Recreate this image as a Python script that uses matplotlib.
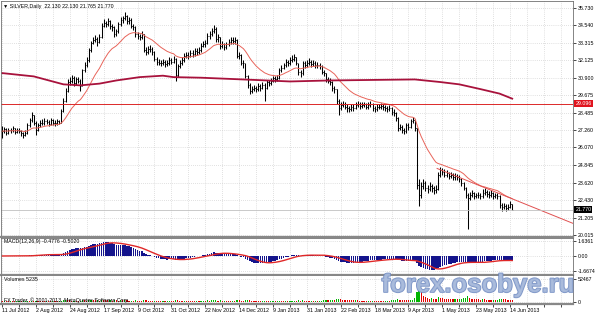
import numpy as np
import pandas as pd
import matplotlib
matplotlib.use('Agg')
import matplotlib.pyplot as plt
import matplotlib.patheffects as pe

plt.rcParams['font.family'] = ['Liberation Sans', 'DejaVu Sans']

# daily closes, SILVER, from 11 Jul 2012 (bar 0) to 17 Jun 2013
closes = [
    27.20, 27.35, 27.10, 27.30, 27.25, 27.40, 27.15, 27.30, 27.20, 27.05,
    26.95, 27.10, 27.60, 27.95, 28.30, 27.80, 27.30, 27.60, 27.80, 27.75,
    27.90, 27.85, 27.70, 27.95, 27.80, 27.75, 27.90, 27.80, 28.60, 29.30,
    30.00, 30.60, 30.70, 30.90, 30.50, 30.80, 30.70, 30.35, 31.40, 31.80,
    32.10, 32.80, 33.30, 33.50, 33.60, 33.40, 33.70, 34.50, 34.70, 34.60,
    34.80, 34.50, 34.40, 33.90, 34.10, 34.60, 34.90, 35.00, 35.20, 34.80,
    34.90, 34.50, 34.40, 33.90, 33.80, 33.70, 33.90, 32.80, 32.70, 32.90,
    32.90, 32.70, 32.20, 32.00, 31.95, 31.90, 32.00, 31.85, 31.90, 32.10,
    32.00, 32.20, 31.06, 31.70, 31.90, 32.10, 32.40, 32.50, 32.40, 32.60,
    32.55, 32.77, 32.70, 32.80, 33.10, 33.20, 33.30, 33.80, 33.90, 34.15,
    34.30, 33.60, 33.70, 33.10, 33.20, 33.00, 33.20, 33.40, 33.50, 33.45,
    33.50, 32.40, 32.50, 31.95, 31.90, 31.00, 30.40, 30.00, 30.10, 30.20,
    30.10, 30.30, 30.20, 30.40, 30.20, 30.60, 30.50, 30.70, 30.85, 30.80,
    30.90, 31.40, 31.60, 31.75, 32.00, 31.90, 32.10, 32.20, 32.30, 31.90,
    31.30, 31.20, 31.90, 31.80, 31.90, 32.00, 31.85, 31.95, 31.75, 31.80,
    31.70, 31.30, 31.20, 30.80, 30.70, 30.60, 30.20, 30.10, 29.30, 28.80,
    29.00, 29.10, 28.90, 28.80, 28.70, 28.90, 28.80, 29.00, 29.10, 28.95,
    29.00, 29.05, 28.90, 29.00, 29.10, 28.80, 28.70, 28.85, 28.90, 28.95,
    28.85, 28.80, 28.75, 28.80, 28.50, 28.45, 28.10, 27.40, 27.50, 27.30,
    27.20, 27.60, 27.50, 27.90, 28.00, 27.40, 23.50, 22.80, 23.40, 23.60,
    23.30, 23.20, 23.40, 23.30, 23.10, 23.20, 24.20, 24.50, 24.40, 24.20,
    24.30, 24.10, 24.20, 24.00, 24.10, 24.00, 23.90, 23.60, 23.30, 22.80,
    22.60, 22.80, 22.90, 22.70, 22.75, 22.80, 22.70, 22.90, 23.00, 22.85,
    22.80, 22.90, 22.70, 22.75, 22.70, 22.10, 21.95, 22.00, 21.90, 21.95,
    22.13, 21.77,
]
highs = [
    27.55, 27.50, 27.45, 27.45, 27.45, 27.55, 27.45, 27.45, 27.40, 27.30,
    27.15, 27.25, 27.75, 28.10, 28.55, 28.35, 27.90, 27.75, 28.00, 28.05,
    28.10, 28.05, 27.95, 28.10, 28.05, 27.95, 28.05, 28.00, 28.75, 29.50,
    30.20, 30.80, 30.95, 31.10, 31.00, 30.95, 30.95, 30.80, 31.50, 32.00,
    32.30, 32.95, 33.45, 33.70, 33.85, 33.75, 33.90, 34.70, 34.95, 34.85,
    35.00, 34.90, 34.65, 34.45, 34.30, 34.75, 35.10, 35.20, 35.45, 35.25,
    35.10, 35.00, 34.65, 34.45, 34.05, 33.95, 34.10, 33.95, 33.00, 33.10,
    33.15, 33.00, 32.75, 32.35, 32.20, 32.15, 32.20, 32.10, 32.10, 32.30,
    32.25, 32.40, 32.25, 31.85, 32.10, 32.30, 32.60, 32.70, 32.65, 32.80,
    32.80, 32.95, 32.95, 33.00, 33.30, 33.45, 33.50, 34.00, 34.10, 34.35,
    34.55, 34.40, 33.95, 33.75, 33.45, 33.30, 33.40, 33.60, 33.70, 33.75,
    33.70, 33.55, 32.70, 32.55, 32.15, 31.95, 31.10, 30.50, 30.30, 30.40,
    30.35, 30.50, 30.45, 30.60, 30.50, 30.75, 30.75, 30.90, 31.05, 31.00,
    31.10, 31.55, 31.80, 31.95, 32.20, 32.15, 32.30, 32.45, 32.55, 32.35,
    31.95, 31.45, 32.05, 32.05, 32.15, 32.25, 32.10, 32.15, 32.05, 32.00,
    31.95, 31.80, 31.45, 31.25, 30.95, 30.85, 30.65, 30.35, 30.15, 29.40,
    29.20, 29.30, 29.20, 29.05, 28.95, 29.10, 29.05, 29.20, 29.30, 29.25,
    29.20, 29.25, 29.15, 29.20, 29.30, 29.15, 28.95, 29.05, 29.10, 29.15,
    29.10, 29.00, 28.95, 29.00, 28.85, 28.70, 28.50, 28.15, 27.70, 27.60,
    27.45, 27.75, 27.75, 28.05, 28.20, 28.05, 27.45, 23.90, 23.70, 23.90,
    23.75, 23.50, 23.65, 23.55, 23.40, 23.45, 24.35, 24.75, 24.65, 24.55,
    24.50, 24.40, 24.40, 24.30, 24.30, 24.25, 24.15, 23.95, 23.70, 23.35,
    22.95, 23.00, 23.10, 23.00, 22.95, 23.00, 22.95, 23.20, 23.25, 23.10,
    23.05, 23.10, 23.00, 22.95, 22.90, 22.75, 22.20, 22.20, 22.15, 22.15,
    22.40, 22.13,
]
lows = [
    26.70, 27.05, 26.95, 27.00, 27.10, 27.15, 27.00, 27.05, 27.05, 26.90,
    26.75, 26.85, 27.00, 27.50, 27.85, 27.65, 26.95, 27.20, 27.50, 27.60,
    27.65, 27.70, 27.55, 27.60, 27.65, 27.55, 27.65, 27.70, 27.75, 28.50,
    29.20, 29.90, 30.40, 30.55, 30.35, 30.40, 30.50, 29.95, 30.30, 31.30,
    31.65, 32.00, 32.70, 33.20, 33.35, 33.10, 33.30, 33.65, 34.40, 34.40,
    34.50, 34.30, 34.15, 33.75, 33.80, 34.00, 34.50, 34.70, 34.90, 34.60,
    34.65, 34.35, 34.20, 33.70, 33.60, 33.50, 33.55, 32.65, 32.50, 32.55,
    32.70, 32.50, 32.05, 31.80, 31.75, 31.70, 31.75, 31.65, 31.70, 31.80,
    31.85, 31.90, 30.70, 30.95, 31.55, 31.80, 32.00, 32.25, 32.20, 32.30,
    32.35, 32.40, 32.50, 32.55, 32.70, 33.00, 33.05, 33.20, 33.60, 33.80,
    34.00, 33.40, 33.40, 32.90, 32.95, 32.80, 32.90, 33.10, 33.25, 33.25,
    33.20, 32.25, 32.20, 31.80, 31.60, 30.85, 30.20, 29.80, 29.85, 29.95,
    29.90, 30.00, 30.00, 30.10, 29.30, 30.10, 30.30, 30.40, 30.60, 30.60,
    30.70, 30.80, 31.30, 31.50, 31.65, 31.70, 31.80, 32.00, 32.05, 31.75,
    31.10, 30.95, 31.10, 31.60, 31.65, 31.75, 31.65, 31.70, 31.55, 31.60,
    31.50, 31.15, 31.00, 30.60, 30.50, 30.40, 30.00, 29.85, 29.10, 28.30,
    28.65, 28.85, 28.70, 28.55, 28.50, 28.60, 28.60, 28.70, 28.85, 28.75,
    28.80, 28.85, 28.70, 28.75, 28.85, 28.60, 28.50, 28.60, 28.70, 28.75,
    28.65, 28.60, 28.55, 28.60, 28.30, 28.25, 27.90, 27.20, 27.25, 27.10,
    27.00, 27.10, 27.30, 27.40, 27.75, 27.20, 23.20, 22.00, 22.60, 23.20,
    23.05, 22.95, 23.05, 23.00, 22.85, 22.95, 23.10, 24.05, 24.15, 24.00,
    24.05, 23.90, 23.95, 23.80, 23.85, 23.80, 23.70, 23.40, 23.10, 22.60,
    20.40, 22.45, 22.65, 22.50, 22.55, 22.60, 22.50, 22.60, 22.75, 22.65,
    22.60, 22.65, 22.50, 22.55, 22.50, 21.90, 21.70, 21.80, 21.70, 21.75,
    21.85, 21.765,
]
volumes = [
    2500, 3000, 2800, 2600, 3100, 2900, 2400, 2700, 3000, 2600,
    2800, 3200, 3500, 3300, 3900, 3100, 3400, 2900, 2700, 2600,
    2500, 2800, 2600, 2400, 2700, 2500, 2300, 2600, 4200, 5100,
    5600, 4800, 4300, 3900, 4100, 3600, 3300, 3800, 4600, 4400,
    4200, 4800, 5200, 4700, 4300, 4500, 4100, 5300, 5000, 4700,
    4400, 4600, 4200, 4800, 4300, 4100, 4500, 4400, 4700, 4300,
    4000, 4200, 3900, 4500, 4100, 3800, 3700, 5200, 4600, 4100,
    3700, 3500, 3900, 3600, 3400, 3300, 3500, 3200, 3300, 3600,
    3400, 3300, 6200, 4500, 3800, 3600, 3900, 3700, 3500, 3400,
    3300, 3200, 3400, 3100, 3700, 3900, 3500, 4300, 4100, 4400,
    4600, 4900, 4200, 4500, 3900, 4000, 3700, 3600, 3500, 3800,
    3400, 5100, 4400, 4200, 3800, 5300, 5600, 4800, 3900, 3200,
    2900, 2600, 2200, 2400, 3600, 2800, 2500, 3000, 3300, 3100,
    3200, 3800, 3600, 3500, 3700, 3400, 3500, 3900, 4100, 3800,
    4900, 4200, 4300, 3800, 3600, 3500, 3700, 3400, 3600, 3500,
    3800, 4200, 4400, 4600, 4300, 4800, 5500, 5200, 7800, 8600,
    7200, 6400, 5800, 5200, 4800, 4600, 4300, 4900, 4500, 4100,
    4000, 3800, 3600, 3900, 3700, 4200, 4100, 3800, 3600, 3500,
    3400, 3600, 3800, 3700, 4300, 4500, 5600, 7600, 6200, 5600,
    5300, 4900, 4700, 5100, 5400, 8800, 23000, 52467, 26000, 15000,
    11000, 9500, 8600, 8900, 8100, 7600, 12000, 10500, 9200, 8400,
    7800, 7500, 7100, 6800, 7400, 6900, 7200, 8100, 8800, 9600,
    14000, 9800, 8200, 7600, 7100, 6800, 6500, 7000, 6600, 6300,
    6200, 6000, 6400, 5900, 6100, 7800, 8200, 7300, 6800, 6500,
    6100, 5235,
]

# 200-day moving average, read at a few bars
ma200_bars = [0, 15, 29, 37, 46, 54, 65, 76, 81, 94, 117, 136, 155, 183, 195, 207, 216, 226, 235, 241]
ma200_vals = [31.22, 30.99, 30.44, 30.37, 30.49, 30.71, 30.94, 31.04, 30.94, 30.90,
              30.76, 30.64, 30.71, 30.76, 30.78, 30.60, 30.44, 30.11, 29.80, 29.45]

# hand drawn trend line and level
trend_bars = [205.5, 269.7]
trend_vals = [24.62, 20.82]
level = 29.096
last_price = 21.770

price_ticks = [35.730, 34.540, 33.315, 32.125, 30.900, 29.675, 28.485,
               27.260, 26.070, 24.845, 23.620, 22.430, 21.205, 20.015]
date_labels = ['11 Jul 2012', '2 Aug 2012', '24 Aug 2012', '17 Sep 2012', '9 Oct 2012',
               '31 Oct 2012', '22 Nov 2012', '14 Dec 2012', '9 Jan 2013', '31 Jan 2013',
               '22 Feb 2013', '18 Mar 2013', '9 Apr 2013', '1 May 2013', '23 May 2013',
               '14 Jun 2013']

n = len(closes)
idx = np.arange(n)
c = np.array(closes)
opens = np.concatenate([[c[0]], c[:-1]])

s = pd.Series(c)
ma_fast = s.ewm(span=20, adjust=False).mean()
macd = s.ewm(span=12, adjust=False).mean() - s.ewm(span=26, adjust=False).mean()
signal = macd.rolling(9, min_periods=1).mean()

fs = 3.8
gridcol = '#c4c4c4'
xmin, xmax = -0.5, 269.7

fig = plt.figure(figsize=(5.95, 3.16), dpi=100)
ax = fig.add_axes([0.00168, 0.251, 0.9613, 0.747])
ax2 = fig.add_axes([0.00168, 0.1297, 0.9613, 0.1187])
ax3 = fig.add_axes([0.00168, 0.038, 0.9613, 0.0902])

for a in (ax, ax2, ax3):
    a.set_xlim(xmin, xmax)
    a.yaxis.tick_right()
    a.tick_params(axis='y', length=2, width=0.5, pad=1.5, labelsize=fs, colors='black')
    a.tick_params(axis='x', length=2, width=0.5, pad=1, labelsize=fs)
    a.set_xticks(np.arange(0, 270, 8))
    a.grid(True, linestyle=(0, (1, 2)), color=gridcol, lw=0.5)
    a.set_axisbelow(True)
    for sp in a.spines.values():
        sp.set_color('#707070')
        sp.set_linewidth(0.6)
    a.spines['bottom'].set_color('#888888')
    a.spines['bottom'].set_linewidth(1.6)

# price pane
ax.set_ylim(19.898, 36.234)
ax.set_yticks(price_ticks)
ax.set_yticklabels(['%.3f' % p for p in price_ticks])
ax.tick_params(axis='x', labelbottom=False, length=0)

ax.vlines(idx, lows, highs, color='black', lw=0.75)
ax.hlines(opens, idx - 0.4, idx, color='black', lw=0.6)
ax.hlines(c, idx, idx + 0.4, color='black', lw=0.6)

ax.plot(idx, ma_fast, color='#e8645a', lw=0.7)
ax.plot(ma200_bars, ma200_vals, color='#a8123c', lw=1.3)
ax.plot(trend_bars, trend_vals, color='#e05050', lw=0.7)
ax.axhline(level, color='#dc2828', lw=0.7)
ax.axhline(last_price, color='#c0c0c0', lw=0.6)

ax.text(1.004, level, '%.3f' % level, transform=ax.get_yaxis_transform(), fontsize=fs,
        color='white', va='center', ha='left',
        bbox=dict(fc='#e0141e', ec='none', pad=0.8))
ax.text(1.004, last_price, '%.3f' % last_price, transform=ax.get_yaxis_transform(), fontsize=fs,
        color='white', va='center', ha='left',
        bbox=dict(fc='black', ec='none', pad=0.8))
ax.text(0.004, 0.985, '\u25bc SILVER,Daily  22.130 22.130 21.765 21.770', transform=ax.transAxes,
        fontsize=fs, va='top', ha='left')

# MACD pane
ax2.set_ylim(-2.10, 2.04)
ax2.set_yticks([1.6361, 0.0, -1.6674])
ax2.set_yticklabels(['1.6361', '0.00', '-1.6674'])
ax2.tick_params(axis='x', labelbottom=False, length=0)
ax2.bar(idx, macd, width=0.75, color='#14148c', lw=0)
ax2.plot(idx, signal, color='#e02828', lw=1.0)
ax2.text(0.006, 0.96, 'MACD(12,26,9) -0.4776 -0.5020', transform=ax2.transAxes,
         fontsize=fs, va='top', ha='left')

# volume pane
vols = np.array(volumes)
vcol = ['#00b400' if i > 0 and vols[i] > vols[i - 1] else '#e00000' for i in range(n)]
ax3.set_ylim(-3500, 60000)
ax3.set_yticks([52467, 0])
ax3.set_yticklabels(['52467', '0'])
ax3.bar(idx, vols, width=0.55, color=vcol, lw=0)
ax3.text(0.006, 0.95, 'Volumes 5235', transform=ax3.transAxes, fontsize=fs, va='top', ha='left')
ax3.text(0.006, 0.05, 'FX Trader, \u00a9 2001-2013, MetaQuotes Software Corp.',
         transform=ax3.transAxes, fontsize=fs, va='bottom', ha='left')

xl = []
for k in range(0, 270, 8):
    xl.append(date_labels[k // 16] if k % 16 == 0 and k // 16 < len(date_labels) else '')
ax3.set_xticklabels(xl)
for t in ax3.get_xticklabels():
    t.set_ha('left')

# watermark
fig.text(0.804, 0.098, 'forex.osobye.ru', fontsize=18.5, fontweight='bold', color='#a9bbdc',
         alpha=0.85, ha='center', va='center',
         path_effects=[pe.withStroke(linewidth=1.2, foreground='#6a86bf')])

fig.savefig('out.png', dpi=100)
